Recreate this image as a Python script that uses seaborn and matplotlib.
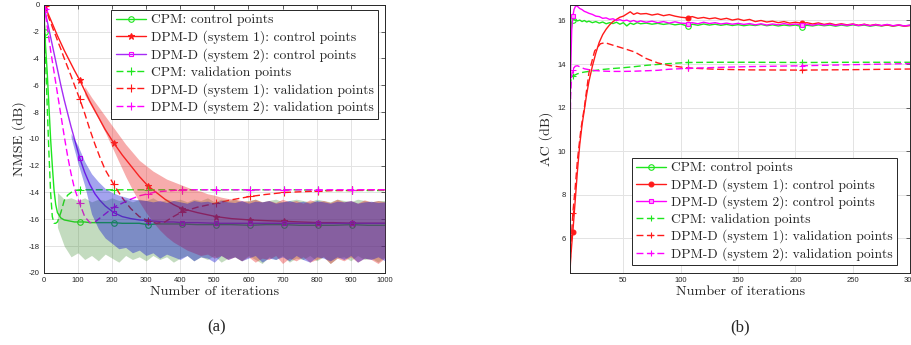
import numpy as np
import pandas as pd
import matplotlib
matplotlib.use("Agg")
import matplotlib.pyplot as plt
import seaborn as sns

# ================================
# DATA
# ================================
LABELS = ["CPM: control points",
          "DPM-D (system 1): control points",
          "DPM-D (system 2): control points",
          "CPM: validation points",
          "DPM-D (system 1): validation points",
          "DPM-D (system 2): validation points"]

# ---- (a) NMSE vs iterations ----
xl = [0, 3, 5, 10, 15, 20, 25, 30, 35, 40, 50, 60, 70, 80, 90, 105, 120, 135, 150, 165, 180,
      205, 230, 255, 280, 305, 330, 355, 380, 405, 450, 505, 550, 605, 650, 705, 750, 805,
      850, 905, 950, 1000]
nmse_cpm_ctrl = [0, -2, -3, -5, -7.5, -10, -12, -13.8, -14.9, -15.5, -15.9, -16.05, -16.1,
                 -16.15, -16.2, -16.2, -16.2, -16.25, -16.25, -16.25, -16.25, -16.25, -16.3,
                 -16.3, -16.3, -16.4, -16.35, -16.35, -16.35, -16.35, -16.4, -16.4, -16.4,
                 -16.45, -16.4, -16.4, -16.45, -16.45, -16.45, -16.4, -16.45, -16.45]
nmse_s1_ctrl = [0, -0.1, -0.2, -0.5, -0.8, -1.1, -1.4, -1.7, -2.0, -2.3, -2.85, -3.4, -3.9,
                -4.4, -4.9, -5.6, -6.4, -7.2, -7.9, -8.6, -9.3, -10.3, -11.2, -12.0, -12.8,
                -13.5, -14.0, -14.5, -14.9, -15.2, -15.5, -15.8, -15.95, -16.05, -16.1, -16.15,
                -16.2, -16.25, -16.25, -16.3, -16.3, -16.3]
nmse_s2_ctrl = [0, -0.4, -0.6, -1.2, -1.8, -2.4, -3.0, -3.6, -4.2, -4.8, -6.0, -7.1, -8.1,
                -9.1, -10.0, -11.4, -12.5, -13.4, -14.1, -14.6, -15.0, -15.5, -15.8, -15.95,
                -16.05, -16.1, -16.15, -16.2, -16.2, -16.25, -16.25, -16.3, -16.3, -16.3,
                -16.3, -16.3, -16.3, -16.3, -16.3, -16.3, -16.3, -16.3]
nmse_cpm_val = [0, -2.4, -4, -7.5, -11, -14, -15.8, -16.3, -16.3, -16.2, -15.5, -14.6, -14.2,
                -14.0, -13.85, -13.8, -13.8, -13.8, -13.8, -13.8, -13.8, -13.8, -13.8, -13.8,
                -13.8, -13.8, -13.8, -13.8, -13.8, -13.8, -13.8, -13.8, -13.8, -13.8, -13.8,
                -13.8, -13.8, -13.85, -13.85, -13.85, -13.85, -13.85]
nmse_s1_val = [0, -0.1, -0.3, -0.6, -1.0, -1.3, -1.65, -2.0, -2.3, -2.65, -3.3, -4.0, -4.65,
               -5.3, -6.0, -7.0, -8.1, -9.3, -10.4, -11.4, -12.3, -13.4, -14.4, -15.2, -15.8,
               -16.1, -16.3, -16.2, -15.8, -15.45, -15.1, -14.8, -14.55, -14.3, -14.15, -14.0,
               -13.95, -13.9, -13.85, -13.85, -13.8, -13.8]
nmse_s2_val = [0, -0.3, -0.7, -1.6, -2.5, -3.4, -4.2, -5.0, -5.8, -6.6, -8.2, -9.8, -11.3,
               -12.6, -13.7, -14.8, -15.8, -16.25, -16.2, -15.9, -15.6, -15.1, -14.8, -14.5,
               -14.25, -14.1, -13.95, -13.9, -13.85, -13.8, -13.8, -13.8, -13.8, -13.8, -13.8,
               -13.8, -13.8, -13.8, -13.8, -13.8, -13.8, -13.8]

# spread bands (upper / lower edge), nan where no band is drawn
xb = list(range(0, 1001, 20))
nan = np.nan
band_cpm_hi = [nan, nan, -14.0, -14.5, -14.4, -14.6, -14.4, -14.7, -14.5, -14.6, -14.4, -14.6,
               -14.5, -14.7, -14.5, -14.6, -14.4, -14.7, -14.5, -14.6, -14.5, -14.7, -14.5,
               -14.6, -14.4, -14.7, -14.5, -14.6, -14.5, -14.7, -14.6, -14.5, -14.7, -14.6,
               -14.5, -14.7, -14.6, -14.5, -14.6, -14.7, -14.5, -14.6, -14.7, -14.5, -14.6,
               -14.7, -14.5, -14.6, -14.7, -14.6, -14.6]
band_cpm_lo = [nan, nan, -16.6, -18.0, -18.8, -18.5, -19.0, -18.7, -19.1, -18.6, -18.9, -19.2,
               -18.7, -19.0, -18.8, -19.1, -18.7, -19.0, -18.8, -19.2, -18.9, -18.7, -19.1,
               -18.8, -19.0, -18.7, -19.2, -18.9, -18.8, -19.1, -18.7, -19.0, -19.3, -18.8,
               -19.0, -18.7, -19.2, -18.9, -19.0, -18.7, -19.1, -18.8, -19.3, -18.9, -18.8,
               -19.1, -18.7, -19.0, -18.9, -19.2, -18.8]
band_s1_hi = [nan, nan, nan, nan, nan, nan, -6.1, -6.9, -7.6, -8.3, -9.0, -9.7, -10.4, -11.0,
              -11.6, -12.0, -12.4, -12.7, -13.0, -13.2, -13.4, -13.6, -13.8, -13.9, -14.1,
              -14.2, -14.35, -14.45, -14.5, -14.6, -14.65, -14.5, -14.7, -14.6, -14.75, -14.5,
              -14.7, -14.6, -14.8, -14.55, -14.7, -14.6, -14.75, -14.5, -14.7, -14.6, -14.8,
              -14.55, -14.7, -14.6, -14.7]
band_s1_lo = [nan, nan, nan, nan, nan, nan, -6.7, -7.6, -8.5, -9.5, -10.6, -11.7, -12.8,
              -13.8, -14.7, -15.5, -16.2, -16.8, -17.3, -17.7, -18.0, -18.3, -18.5, -18.7,
              -18.6, -18.9, -18.7, -19.0, -18.8, -19.1, -18.8, -19.2, -18.9, -19.0, -18.7,
              -19.3, -18.9, -19.1, -18.8, -19.2, -19.0, -18.8, -19.3, -18.9, -19.1, -18.8,
              -19.2, -18.9, -19.0, -19.3, -18.9]
band_s2_hi = [nan, nan, nan, nan, -9.6, -10.5, -11.7, -12.6, -13.2, -13.7, -14.0, -14.2, -14.35,
              -14.5, -14.55, -14.6, -14.7, -14.6, -14.75, -14.6, -14.7, -14.8, -14.6, -14.7,
              -14.65, -14.8, -14.6, -14.7, -14.75, -14.6, -14.8, -14.65, -14.7, -14.6, -14.8,
              -14.7, -14.6, -14.75, -14.65, -14.8, -14.6, -14.7, -14.8, -14.65, -14.7, -14.6,
              -14.8, -14.7, -14.65, -14.75, -14.7]
band_s2_lo = [nan, nan, nan, nan, -9.9, -11.8, -13.5, -15.6, -16.7, -17.4, -17.8, -18.2, -18.1,
              -18.5, -18.3, -18.7, -18.5, -18.9, -18.6, -18.8, -19.0, -18.7, -19.1, -18.8,
              -18.9, -19.2, -18.7, -19.0, -18.8, -19.1, -18.9, -18.7, -19.2, -18.9, -19.0,
              -18.8, -19.1, -18.7, -19.0, -19.2, -18.8, -18.9, -19.1, -18.8, -19.0, -18.7,
              -19.2, -18.9, -19.0, -18.8, -19.1]

# ---- (b) AC vs iterations ----
xr = [3.5, 4, 5, 6, 7, 8, 9, 10, 12, 14, 16, 18, 20, 23, 26, 29, 32, 35, 38, 41, 44, 47, 50,
      53, 56, 59, 62, 65, 70, 75, 80, 85, 90, 95, 100, 106, 110, 115, 120, 125, 130, 135, 140,
      145, 150, 155, 160, 165, 170, 175, 180, 185, 190, 195, 200, 206, 210, 215, 220, 225, 230,
      235, 240, 245, 250, 255, 260, 265, 270, 275, 280, 285, 290, 295, 300]
ac_cpm_ctrl = [13.0, 15.0, 15.9, 16.03, 16.05, 16.0, 16.03, 15.98, 16.02, 15.95, 16.0, 15.93,
               15.97, 15.9, 15.95, 15.88, 15.93, 15.85, 15.9, 15.86, 15.92, 15.83, 15.9, 15.75,
               15.88, 15.82, 15.9, 15.85, 15.88, 15.83, 15.87, 15.82, 15.86, 15.8, 15.84, 15.74,
               15.83, 15.78, 15.84, 15.79, 15.83, 15.78, 15.82, 15.77, 15.81, 15.76, 15.8, 15.77,
               15.82, 15.76, 15.8, 15.75, 15.79, 15.76, 15.79, 15.72, 15.78, 15.75, 15.8, 15.76,
               15.79, 15.74, 15.79, 15.75, 15.8, 15.76, 15.79, 15.74, 15.78, 15.75, 15.79, 15.74,
               15.78, 15.75, 15.78]
ac_s1_ctrl = [4.4, 5.0, 5.7, 6.3, 7.0, 7.7, 8.4, 9.1, 10.3, 11.2, 11.9, 12.6, 13.2, 13.9, 14.5,
              15.0, 15.35, 15.6, 15.8, 15.95, 16.05, 16.15, 16.2, 16.3, 16.4, 16.28, 16.35, 16.3,
              16.32, 16.25, 16.3, 16.22, 16.27, 16.2, 16.15, 16.12, 16.18, 16.1, 16.14, 16.08,
              16.12, 16.05, 16.1, 16.02, 16.07, 16.0, 16.05, 15.95, 16.0, 15.93, 15.97, 15.9,
              15.95, 15.88, 15.92, 15.87, 15.9, 15.84, 15.89, 15.82, 15.87, 15.8, 15.85, 15.8,
              15.84, 15.78, 15.83, 15.77, 15.82, 15.76, 15.8, 15.75, 15.79, 15.74, 15.77]
ac_s2_ctrl = [10.0, 13.5, 15.6, 16.2, 16.5, 16.62, 16.68, 16.65, 16.55, 16.5, 16.42, 16.38,
              16.33, 16.28, 16.2, 16.18, 16.1, 16.12, 16.05, 16.08, 16.0, 16.04, 15.98, 16.02,
              15.95, 16.0, 15.93, 15.98, 15.92, 15.97, 15.9, 15.95, 15.88, 15.94, 15.88, 15.86,
              15.9, 15.85, 15.92, 15.86, 15.9, 15.84, 15.88, 15.83, 15.87, 15.82, 15.86, 15.8,
              15.85, 15.79, 15.84, 15.8, 15.86, 15.8, 15.84, 15.78, 15.83, 15.78, 15.84, 15.79,
              15.83, 15.77, 15.82, 15.78, 15.83, 15.77, 15.82, 15.76, 15.81, 15.77, 15.82, 15.76,
              15.8, 15.75, 15.79]
xrd = [3.5, 4, 5, 6, 8, 10, 13, 16, 20, 25, 30, 34, 40, 50, 60, 70, 80, 90, 106, 130, 160,
       206, 250, 300]
ac_cpm_val = [12.5, 13.2, 13.4, 13.46, 13.5, 13.55, 13.6, 13.63, 13.66, 13.7, 13.74, 13.76,
              13.79, 13.83, 13.88, 13.94, 13.98, 14.02, 14.07, 14.08, 14.08, 14.07, 14.08, 14.08]
ac_s1_val = [4.4, 5.3, 6.3, 7.17, 8.3, 9.6, 11.0, 12.0, 13.6, 14.6, 14.93, 14.98, 14.88,
             14.72, 14.55, 14.25, 14.05, 13.93, 13.82, 13.76, 13.73, 13.72, 13.74, 13.77]
ac_s2_val = [10.0, 12.5, 13.5, 13.74, 13.9, 13.92, 13.85, 13.78, 13.74, 13.7, 13.68, 13.67,
             13.66, 13.66, 13.67, 13.69, 13.71, 13.76, 13.8, 13.84, 13.88, 13.92, 13.97, 14.02]

MARKS_A = [3, 105, 205, 305, 405, 505, 605, 705, 805, 905]
MARKS_B = [6, 106, 206]

# ================================
# STYLE
# ================================
GREEN, RED, MAGENTA, VIOLET = "#1ee61e", "#ff1a1a", "#ff00ff", "#a52cf5"
SERIF = "cmr10"

sns.set_style("whitegrid")
plt.rcParams["font.family"] = ["Liberation Sans", "DejaVu Sans"]
plt.rcParams["axes.unicode_minus"] = False
plt.rcParams["axes.formatter.use_mathtext"] = False


def marks_idx(x, marks):
    x = np.asarray(x, dtype=float)
    return [int(np.argmin(np.abs(x - m))) for m in marks]


def style_axes(ax):
    ax.grid(True, color="#e3e3e3", linewidth=0.7)
    for s in ax.spines.values():
        s.set_color("#262626")
        s.set_linewidth(0.7)
        s.set_visible(True)
    ax.tick_params(direction="in", length=3, width=0.5, top=True, right=True,
                   labelsize=5.5, colors="#262626", pad=3)


def draw_line(ax, x, y, color, ls, marker, marks, label, ms=4, mfc=None, mec=None, z=2):
    sns.lineplot(x=x, y=y, ax=ax, color=color, linestyle=ls, linewidth=1.0,
                 marker=marker, markersize=ms, markevery=marks_idx(x, marks),
                 markerfacecolor=mfc if mfc is not None else color,
                 markeredgecolor=mec if mec is not None else color,
                 markeredgewidth=0.8, label=label,
                 zorder=z, estimator=None, sort=False)


def add_legend(ax, size, spacing, **kw):
    leg = ax.legend(prop={"family": SERIF, "size": size}, frameon=True, fancybox=False,
                    framealpha=1, edgecolor="#262626", handlelength=2.2,
                    handletextpad=0.4, labelspacing=spacing, borderpad=0.3,
                    borderaxespad=0, **kw)
    leg.get_frame().set_linewidth(0.7)


fig = plt.figure(figsize=(9.12, 3.45), dpi=100)
ax1 = fig.add_axes([0.048, 0.209, 0.374, 0.777])
ax2 = fig.add_axes([0.625, 0.209, 0.373, 0.777])

DASH = (0, (5, 2.5))

# ================================
# (a) NMSE
# ================================
draw_line(ax1, xl, nmse_cpm_ctrl, GREEN, "-", "o", MARKS_A, LABELS[0], mfc="none")
draw_line(ax1, xl, nmse_s1_ctrl, RED, "-", "*", MARKS_A, LABELS[1], ms=4.5)
draw_line(ax1, xl, nmse_s2_ctrl, VIOLET, "-", "s", MARKS_A, LABELS[2], ms=3.5,
          mfc="none", mec=MAGENTA)
draw_line(ax1, xl, nmse_cpm_val, GREEN, DASH, "+", MARKS_A, LABELS[3], ms=6)
draw_line(ax1, xl, nmse_s1_val, RED, DASH, "+", MARKS_A, LABELS[4], ms=6)
draw_line(ax1, xl, nmse_s2_val, MAGENTA, DASH, "+", MARKS_A, LABELS[5], ms=6)

ax1.fill_between(xb, band_cpm_lo, band_cpm_hi, color="#3b8a2c", alpha=0.3, lw=0, zorder=3)
ax1.fill_between(xb, band_s1_lo, band_s1_hi, color="#eb3030", alpha=0.4, lw=0, zorder=3)
ax1.fill_between(xb, band_s2_lo, band_s2_hi, color="#0000d0", alpha=0.36, lw=0, zorder=3)

ax1.set_xlim(0, 1000)
ax1.set_ylim(-20, 0)
ax1.set_xticks(range(0, 1001, 100))
ax1.set_yticks(range(-20, 1, 2))
ax1.set_xlabel("Number of iterations", family=SERIF, fontsize=10.2, labelpad=1)
ax1.set_ylabel("NMSE (dB)", family=SERIF, fontsize=10.2, labelpad=2)
style_axes(ax1)
add_legend(ax1, 9.8, 0.3, loc="upper right", bbox_to_anchor=(0.98, 0.982))

# ================================
# (b) AC
# ================================
draw_line(ax2, xr, ac_cpm_ctrl, GREEN, "-", "o", MARKS_B, LABELS[0], mfc="none")
draw_line(ax2, xr, ac_s1_ctrl, RED, "-", "o", MARKS_B, LABELS[1], ms=3.5)
draw_line(ax2, xr, ac_s2_ctrl, MAGENTA, "-", "s", MARKS_B, LABELS[2], ms=3.5, mfc="#ff99ff")
draw_line(ax2, xrd, ac_cpm_val, GREEN, DASH, "+", MARKS_B, LABELS[3], ms=5)
draw_line(ax2, xrd, ac_s1_val, RED, DASH, "+", MARKS_B, LABELS[4], ms=5)
draw_line(ax2, xrd, ac_s2_val, MAGENTA, DASH, "+", MARKS_B, LABELS[5], ms=5)

ax2.set_xlim(3.5, 300)
ax2.set_ylim(4.4, 16.72)
ax2.set_xticks(range(50, 301, 50))
ax2.set_yticks(range(6, 17, 2))
ax2.set_xlabel("Number of iterations", family=SERIF, fontsize=10.2, labelpad=1)
ax2.set_ylabel("AC (dB)", family=SERIF, fontsize=10.2, labelpad=3)
style_axes(ax2)
add_legend(ax2, 9.7, 0.28, loc="lower right", bbox_to_anchor=(0.962, 0.03))

fig.text(0.237, 0.05, "(a)", family="Liberation Serif", fontsize=12, ha="center", va="center")
fig.text(0.812, 0.05, "(b)", family="Liberation Serif", fontsize=12, ha="center", va="center")

fig.savefig("out.png", dpi=100)
